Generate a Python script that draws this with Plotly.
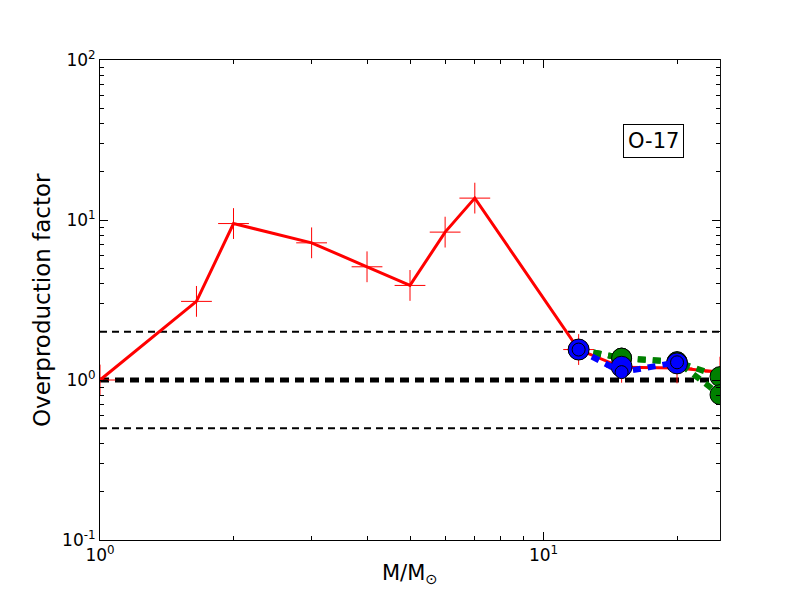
import plotly.graph_objects as go
import math

# ---- data ----
red_mass = [1.0, 1.65, 2.0, 3.0, 4.0, 5.0, 6.0, 7.0, 12.0, 15.0, 20.0, 25.0]
red_of = [1.0, 3.1, 9.5, 7.2, 5.1, 3.9, 8.4, 13.7, 1.55, 1.2, 1.19, 1.12]

green_a_mass = [12.0, 15.0, 20.0, 25.0]
green_a_of = [1.55, 1.37, 1.30, 1.05]
green_b_mass = [12.0, 15.0, 20.0, 25.0]
green_b_of = [1.55, 1.37, 1.30, 0.81]

blue_big_mass = [12.0, 15.0, 20.0]
blue_big_of = [1.55, 1.21, 1.27]
blue_small_mass = [12.0, 15.0, 20.0]
blue_small_of = [1.55, 1.12, 1.29]

ref_levels = [0.5, 1.0, 2.0]
ref_widths = [2, 5, 2]
ref_dashes = ["7px,5px", "9px,6px", "7px,5px"]

x_range = [1.0, 25.0]
y_range = [0.1, 100.0]
x_major = [1, 10]
x_major_text = ["10<sup>0</sup>", "10<sup>1</sup>"]
y_major = [0.1, 1, 10, 100]
y_major_text = ["10<sup>-1</sup>", "10<sup>0</sup>", "10<sup>1</sup>", "10<sup>2</sup>"]

label_text = "O-17"

fig = go.Figure()

for lvl, w, d in zip(ref_levels, ref_widths, ref_dashes):
    fig.add_trace(go.Scatter(x=x_range, y=[lvl, lvl], mode="lines",
                             line=dict(color="black", width=w, dash=d),
                             hoverinfo="skip", showlegend=False))

fig.add_trace(go.Scatter(x=red_mass, y=red_of, mode="lines+markers",
                         line=dict(color="#ff0000", width=3),
                         marker=dict(symbol="cross-thin", size=22, color="#ff0000",
                                     line=dict(color="#ff0000", width=1)),
                         showlegend=False))

for gx, gy in [(green_a_mass, green_a_of), (green_b_mass, green_b_of)]:
    fig.add_trace(go.Scatter(x=gx, y=gy, mode="lines+markers",
                             line=dict(color="#008000", width=6, dash="8px,7px"),
                             marker=dict(symbol="circle", size=20, color="#008000",
                                         line=dict(color="black", width=1)),
                             showlegend=False))

fig.add_trace(go.Scatter(x=blue_big_mass, y=blue_big_of, mode="markers",
                         marker=dict(symbol="circle", size=21, color="#0000ff",
                                     line=dict(color="black", width=1)),
                         showlegend=False))
fig.add_trace(go.Scatter(x=blue_small_mass, y=blue_small_of, mode="lines+markers",
                         line=dict(color="#0000ff", width=6, dash="8px,7px"),
                         marker=dict(symbol="circle", size=13, color="#0000ff",
                                     line=dict(color="black", width=1)),
                         showlegend=False))

minor_x = [m * 10 ** e for e in range(0, 2) for m in range(2, 10) if m * 10 ** e < 25]
minor_y = [m * 10 ** e for e in range(-1, 2) for m in range(2, 10)]

axis_common = dict(type="log", showgrid=False, zeroline=False, showline=True,
                   linecolor="black", linewidth=1, mirror="allticks",
                   ticks="inside", ticklen=8, tickwidth=1, tickcolor="black",
                   layer="above traces",
                   tickfont=dict(family="DejaVu Sans", size=17, color="black"))

fig.update_layout(
    width=800, height=600,
    margin=dict(l=92, r=88, t=52, b=68),
    paper_bgcolor="white", plot_bgcolor="white",
    font=dict(family="DejaVu Sans", color="black"),
    xaxis=dict(**axis_common, range=[math.log10(x_range[0]), math.log10(x_range[1])],
               tickmode="array", tickvals=x_major, ticktext=x_major_text,
               minor=dict(tickmode="array", tickvals=minor_x, ticks="inside",
                          ticklen=4, tickcolor="black", tickwidth=1)),
    yaxis=dict(**axis_common, range=[math.log10(y_range[0]), math.log10(y_range[1])],
               tickmode="array", tickvals=y_major, ticktext=y_major_text,
               minor=dict(tickmode="array", tickvals=minor_y, ticks="inside",
                          ticklen=4, tickcolor="black", tickwidth=1)),
    shapes=[
        # white mask to the right of the axes so edge markers appear clipped
        dict(type="rect", xref="paper", yref="paper", x0=1.0015, x1=1.2,
             y0=-0.05, y1=1.05, fillcolor="white", line=dict(width=0),
             layer="above"),
    ],
    annotations=[
        dict(text="Overproduction factor", xref="paper", yref="paper",
             x=-0.0935, y=0.5, textangle=-90, showarrow=False,
             font=dict(family="DejaVu Sans", size=23, color="black"),
             xanchor="center", yanchor="middle"),
        dict(text="M/M<sub>⊙</sub>", xref="paper", yref="paper",
             x=0.5, y=-0.07, showarrow=False,
             font=dict(family="DejaVu Sans", size=21, color="black"),
             xanchor="center", yanchor="middle"),
        dict(text=label_text, xref="paper", yref="paper",
             x=0.8935, y=0.831, showarrow=False,
             font=dict(family="DejaVu Sans", size=21, color="black"),
             bordercolor="black", borderwidth=1, borderpad=4, bgcolor="white",
             xanchor="center", yanchor="middle"),
    ],
)

fig.write_html("out.html")
